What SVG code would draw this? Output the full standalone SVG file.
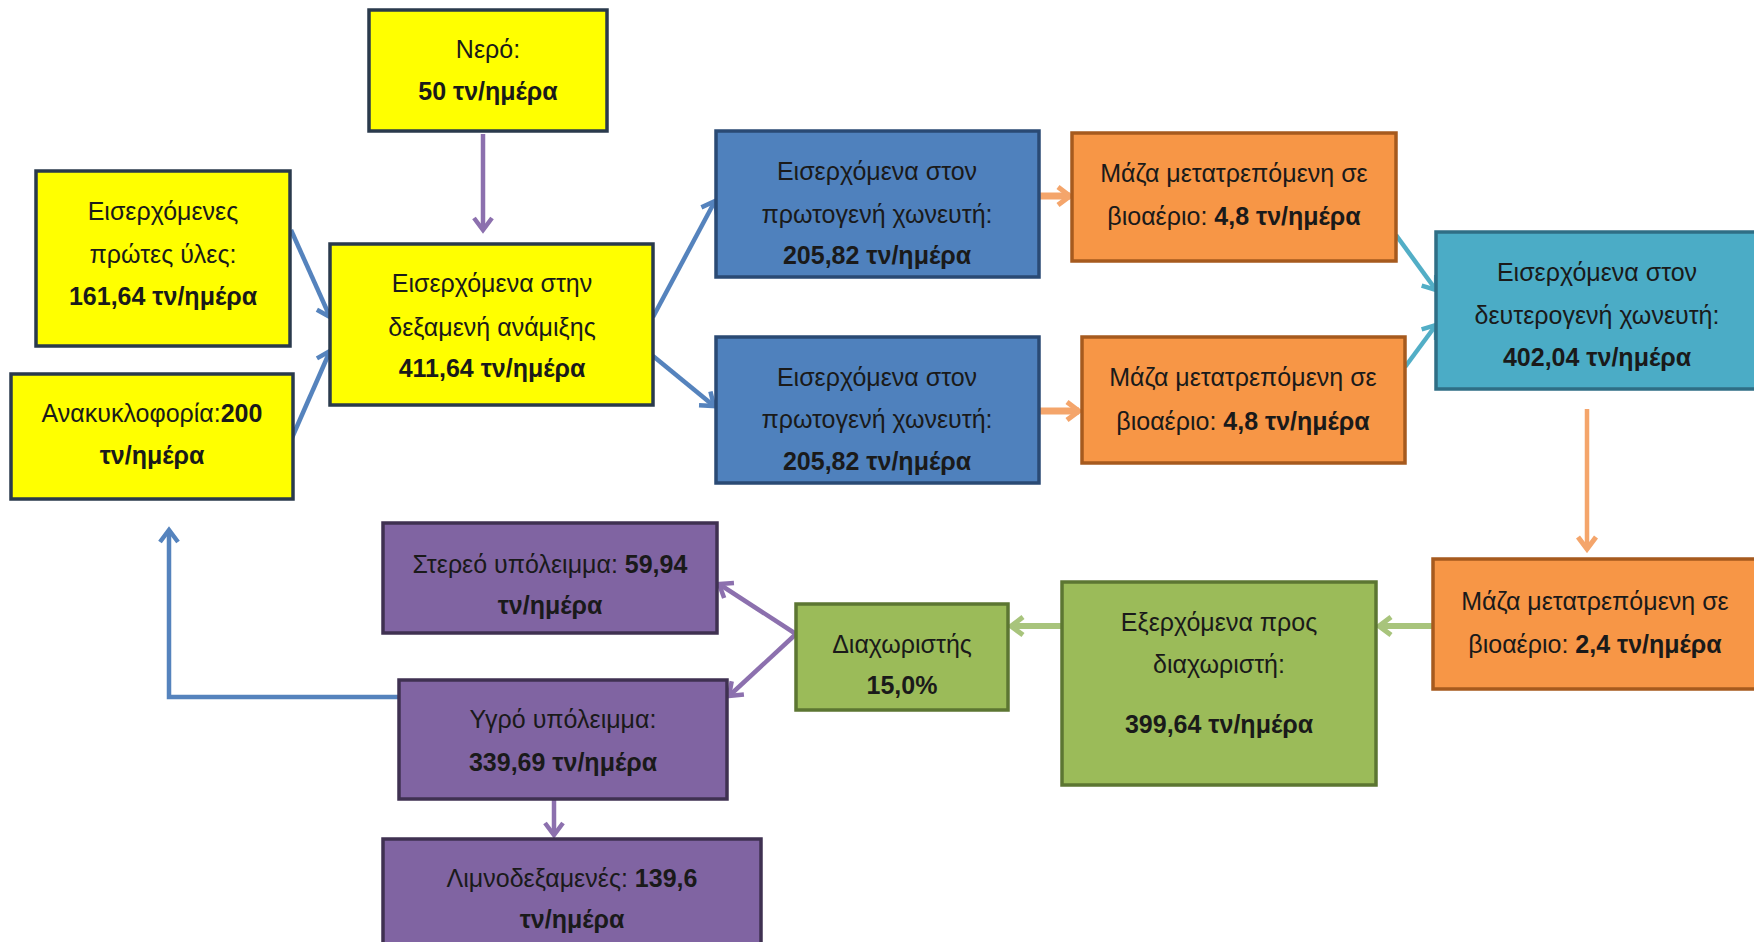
<svg xmlns="http://www.w3.org/2000/svg" width="1754" height="942" viewBox="0 0 1754 942">
<style>
text{font-family:"Liberation Sans",Arial,sans-serif;font-size:25px;fill:#1a1a1a;text-anchor:middle}
.b{font-weight:bold}
.box{stroke-width:3.5}
.yel{fill:#FFFF00;stroke:#2A3A4C}
.blu{fill:#4F81BD;stroke:#2A4A74}
.org{fill:#F79646;stroke:#A65A1E}
.tea{fill:#4BACC6;stroke:#2F6E85}
.grn{fill:#9BBB59;stroke:#5C7632}
.pur{fill:#8064A2;stroke:#3F3151}
.c{fill:none;stroke-width:4.5}
.cb{stroke:#5583BD}
.cp{stroke:#8C70AE}
.co{stroke:#F4A56B;stroke-width:7}
.ct{stroke:#52AEC6}
.cg{stroke:#A8C47C;stroke-width:6}
</style>
<defs>
<marker id="ab" viewBox="-16 -12 20 24" markerWidth="20" markerHeight="24" refX="0" refY="0" orient="auto" markerUnits="userSpaceOnUse"><path d="M-12,-9 L0,0 L-12,9" fill="none" stroke="#5583BD" stroke-width="4.5"/></marker>
<marker id="ap" viewBox="-16 -12 20 24" markerWidth="20" markerHeight="24" refX="0" refY="0" orient="auto" markerUnits="userSpaceOnUse"><path d="M-12,-9 L0,0 L-12,9" fill="none" stroke="#8C70AE" stroke-width="4.5"/></marker>
<marker id="ao" viewBox="-16 -12 20 24" markerWidth="20" markerHeight="24" refX="0" refY="0" orient="auto" markerUnits="userSpaceOnUse"><path d="M-12,-9 L0,0 L-12,9" fill="none" stroke="#F4A56B" stroke-width="5"/></marker>
<marker id="at" viewBox="-16 -12 20 24" markerWidth="20" markerHeight="24" refX="0" refY="0" orient="auto" markerUnits="userSpaceOnUse"><path d="M-12,-9 L0,0 L-12,9" fill="none" stroke="#52AEC6" stroke-width="4.5"/></marker>
<marker id="ag" viewBox="-16 -12 20 24" markerWidth="20" markerHeight="24" refX="0" refY="0" orient="auto" markerUnits="userSpaceOnUse"><path d="M-12,-9 L0,0 L-12,9" fill="none" stroke="#A8C47C" stroke-width="5"/></marker>
</defs>
<rect width="1754" height="942" fill="#FFFFFF"/>

<g id="connectors">
<line class="c cp" x1="483" y1="134" x2="483" y2="230" marker-end="url(#ap)"/>
<line class="c cb" x1="291" y1="230" x2="330" y2="317" marker-end="url(#ab)"/>
<line class="c cb" x1="291" y1="440" x2="330" y2="351" marker-end="url(#ab)"/>
<line class="c cb" x1="653" y1="317" x2="715" y2="201" marker-end="url(#ab)"/>
<line class="c cb" x1="653" y1="356" x2="714" y2="406" marker-end="url(#ab)"/>
<line class="c co" x1="1039" y1="196" x2="1070" y2="196" marker-end="url(#ao)"/>
<line class="c co" x1="1039" y1="411" x2="1079" y2="411" marker-end="url(#ao)"/>
<line class="c ct" x1="1396" y1="235" x2="1436" y2="290" marker-end="url(#at)"/>
<line class="c ct" x1="1405" y1="367" x2="1436" y2="325" marker-end="url(#at)"/>
<line class="c co" x1="1587" y1="409" x2="1587" y2="549" style="stroke-width:4.5" marker-end="url(#ao)"/>
<line class="c cg" x1="1433" y1="626" x2="1379" y2="626" marker-end="url(#ag)"/>
<line class="c cg" x1="1062" y1="626" x2="1011" y2="626" marker-end="url(#ag)"/>
<line class="c cp" x1="796" y1="634" x2="719" y2="584" marker-end="url(#ap)"/>
<line class="c cp" x1="796" y1="634" x2="729" y2="696" marker-end="url(#ap)"/>
<line class="c cp" x1="554" y1="799" x2="554" y2="835" marker-end="url(#ap)"/>
<polyline class="c cb" points="399,697 169,697 169,530" marker-end="url(#ab)"/>
</g>

<g id="n-nero"><rect class="box yel" x="369" y="10" width="238" height="121"/>
<text x="488" y="58">Νερό:</text><text class="b" x="488" y="100">50 τν/ημέρα</text></g>

<g id="n-raw"><rect class="box yel" x="36" y="171" width="254" height="175"/>
<text x="163" y="220">Εισερχόμενες</text><text x="163" y="263">πρώτες ύλες:</text><text class="b" x="163" y="305">161,64 τν/ημέρα</text></g>

<g id="n-recycle"><rect class="box yel" x="11" y="374" width="282" height="125"/>
<text x="152" y="422">Ανακυκλοφορία:<tspan class="b">200</tspan></text><text class="b" x="152" y="464">τν/ημέρα</text></g>

<g id="n-mix"><rect class="box yel" x="330" y="244" width="323" height="161"/>
<text x="492" y="292">Εισερχόμενα στην</text><text x="492" y="336">δεξαμενή ανάμιξης</text><text class="b" x="492" y="377">411,64 τν/ημέρα</text></g>

<g id="n-p1"><rect class="box blu" x="716" y="131" width="323" height="146"/>
<text x="877" y="180">Εισερχόμενα στον</text><text x="877" y="223">πρωτογενή χωνευτή:</text><text class="b" x="877" y="264">205,82 τν/ημέρα</text></g>

<g id="n-p2"><rect class="box blu" x="716" y="337" width="323" height="146"/>
<text x="877" y="386">Εισερχόμενα στον</text><text x="877" y="428">πρωτογενή χωνευτή:</text><text class="b" x="877" y="470">205,82 τν/ημέρα</text></g>

<g id="n-o1"><rect class="box org" x="1072" y="133" width="324" height="128"/>
<text x="1234" y="182">Μάζα μετατρεπόμενη σε</text><text x="1234" y="225">βιοαέριο: <tspan class="b">4,8 τν/ημέρα</tspan></text></g>

<g id="n-o2"><rect class="box org" x="1082" y="337" width="323" height="126"/>
<text x="1243" y="386">Μάζα μετατρεπόμενη σε</text><text x="1243" y="430">βιοαέριο: <tspan class="b">4,8 τν/ημέρα</tspan></text></g>

<g id="n-sec"><rect class="box tea" x="1436" y="232" width="330" height="157"/>
<text x="1597" y="281">Εισερχόμενα στον</text><text x="1597" y="324">δευτερογενή χωνευτή:</text><text class="b" x="1597" y="366">402,04 τν/ημέρα</text></g>

<g id="n-o3"><rect class="box org" x="1433" y="559" width="330" height="130"/>
<text x="1595" y="610">Μάζα μετατρεπόμενη σε</text><text x="1595" y="653">βιοαέριο: <tspan class="b">2,4 τν/ημέρα</tspan></text></g>

<g id="n-out"><rect class="box grn" x="1062" y="582" width="314" height="203"/>
<text x="1219" y="631">Εξερχόμενα προς</text><text x="1219" y="673">διαχωριστή:</text><text class="b" x="1219" y="733">399,64 τν/ημέρα</text></g>

<g id="n-sep"><rect class="box grn" x="796" y="604" width="212" height="106"/>
<text x="902" y="653">Διαχωριστής</text><text class="b" x="902" y="694">15,0%</text></g>

<g id="n-solid"><rect class="box pur" x="383" y="523" width="334" height="110"/>
<text x="550" y="573">Στερεό υπόλειμμα: <tspan class="b">59,94</tspan></text><text class="b" x="550" y="614">τν/ημέρα</text></g>

<g id="n-liquid"><rect class="box pur" x="399" y="680" width="328" height="119"/>
<text x="563" y="728">Υγρό υπόλειμμα:</text><text class="b" x="563" y="771">339,69 τν/ημέρα</text></g>

<g id="n-lagoon"><rect class="box pur" x="383" y="839" width="378" height="115"/>
<text x="572" y="887">Λιμνοδεξαμενές: <tspan class="b">139,6</tspan></text><text class="b" x="572" y="928">τν/ημέρα</text></g>
</svg>
